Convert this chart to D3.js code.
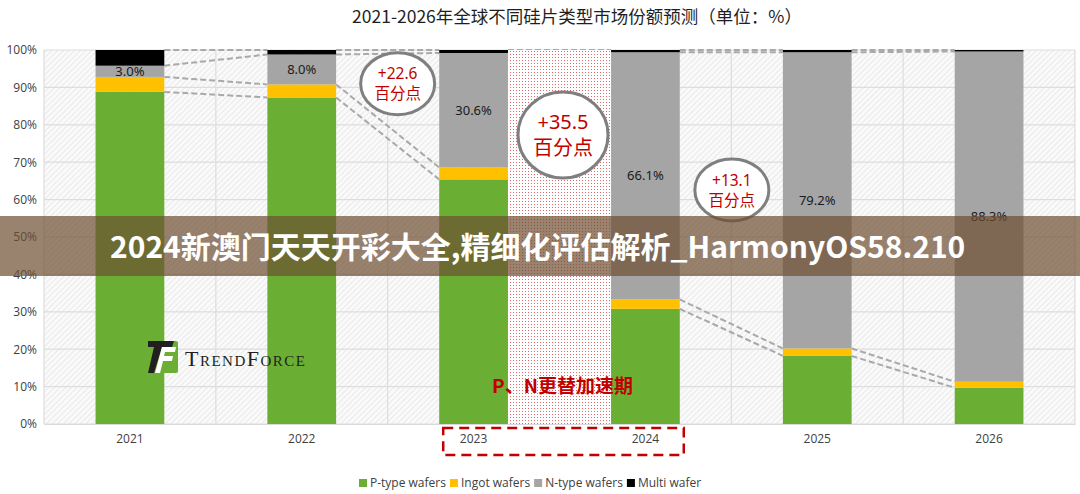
<!DOCTYPE html>
<html>
<head>
<meta charset="utf-8">
<script src="https://cdn.jsdelivr.net/npm/d3@7"></script>
<style>
  body { margin: 0; background: #fff; }
  svg text { font-family: "Noto Sans", "Noto Sans CJK SC", sans-serif; }
</style>
</head>
<body>
<div class="graph"></div>
<script>
// chart data (percent share per year)
const years = ["2021", "2022", "2023", "2024", "2025", "2026"];
const series = ["P-type wafers", "Ingot wafers", "N-type wafers", "Multi wafer"];
const pType = [88.8, 87.3, 65.4, 30.8, 18.2, 9.7];
const ingot = [4.0, 3.5, 3.2, 2.5, 2.0, 1.6];
const nType = [3.0, 8.0, 30.6, 66.1, 79.2, 88.3];
const multi = [4.2, 1.2, 0.8, 0.6, 0.6, 0.4];
const nLabels = ["3.0%", "8.0%", "30.6%", "66.1%", "79.2%", "88.3%"];
const yTicks = [0, 10, 20, 30, 40, 50, 60, 70, 80, 90, 100];
const colors = ["#6aaf33", "#ffc000", "#a5a5a5", "#000000"];

// annotation bubbles: placed between two years, at a value
const bubbles = [
  {from: "2022", to: "2023", at: 91, top: "+22.6", bottom: "百分点", big: false},
  {from: "2023", to: "2024", at: 77.3, top: "+35.5", bottom: "百分点", big: true},
  {from: "2024", to: "2025", at: 62.6, top: "+13.1", bottom: "百分点", big: false}
];

const W = 1080, H = 494;
const margin = {top: 50, right: 5, bottom: 70, left: 44};

const svg = d3.select(".graph").append("svg")
  .attr("width", W).attr("height", H);

const defs = svg.append("defs");
// light diagonal hatch of the plot background
const hatch = defs.append("pattern").attr("id", "hatch")
  .attr("patternUnits", "userSpaceOnUse").attr("width", 4).attr("height", 4)
  .attr("patternTransform", "rotate(45)");
hatch.append("rect").attr("width", 4).attr("height", 4).attr("fill", "#fafafa");
hatch.append("line").attr("x1", 0).attr("y1", 0).attr("x2", 0).attr("y2", 4)
  .attr("stroke", "#d9d9d9").attr("stroke-width", 1);
// red dots of the P/N transition zone
const dots = defs.append("pattern").attr("id", "dots")
  .attr("patternUnits", "userSpaceOnUse").attr("width", 3).attr("height", 3);
dots.append("rect").attr("width", 3).attr("height", 3).attr("fill", "#fff");
dots.append("rect").attr("width", 1).attr("height", 1).attr("fill", "#e06a6a");

const x = d3.scaleBand()
  .domain(years)
  .range([margin.left, W - margin.right])
  .paddingInner(0.6)
  .paddingOuter(0.3);
const y = d3.scaleLinear()
  .domain([0, 100])
  .range([H - margin.bottom, margin.top]);
const step = x.step();
const cx = d => x(d) + x.bandwidth() / 2;

// plot background
svg.append("rect")
  .attr("x", margin.left).attr("y", y(100))
  .attr("width", W - margin.right - margin.left).attr("height", y(0) - y(100))
  .attr("fill", "url(#hatch)");

// grid
svg.append("g").selectAll("line").data(yTicks).join("line")
  .attr("x1", margin.left).attr("x2", W - margin.right)
  .attr("y1", d => y(d)).attr("y2", d => y(d))
  .attr("stroke", "#dddddd").attr("stroke-width", 1.2);
const vLines = [margin.left].concat(years.map(d => cx(d) + step / 2));
svg.append("g").selectAll("line").data(vLines).join("line")
  .attr("x1", d => d).attr("x2", d => d)
  .attr("y1", y(100)).attr("y2", y(0))
  .attr("stroke", "#dddddd").attr("stroke-width", 1.2);

// y axis
const yAxis = svg.append("g")
  .attr("transform", "translate(" + margin.left + ",0)")
  .call(d3.axisLeft(y).tickValues(yTicks).tickSize(0).tickPadding(7).tickFormat(d => d + "%"));
yAxis.select(".domain").remove();
yAxis.selectAll("text").style("font-size", "12px").attr("fill", "#404040")
  .style("font-family", "'Open Sans', 'Noto Sans', sans-serif");

// x axis
const xAxis = svg.append("g")
  .attr("transform", "translate(0," + y(0) + ")")
  .call(d3.axisBottom(x).tickSize(0).tickPadding(10));
xAxis.select(".domain").attr("stroke", "#d9d9d9").attr("stroke-width", 1.2);
xAxis.selectAll("text").style("font-size", "12px").attr("fill", "#404040")
  .style("font-family", "'Open Sans', 'Noto Sans', sans-serif");

// stacked data
const table = years.map((yr, i) => ({
  year: yr, "P-type wafers": pType[i], "Ingot wafers": ingot[i],
  "N-type wafers": nType[i], "Multi wafer": multi[i]
}));
const stacked = d3.stack().keys(series)(table);

// dashed connectors between neighbouring bars
const conn = svg.append("g");
stacked.forEach(layer => {
  for (let i = 0; i < years.length - 1; i++) {
    conn.append("line")
      .attr("x1", x(years[i]) + x.bandwidth()).attr("y1", y(layer[i][1]))
      .attr("x2", x(years[i + 1])).attr("y2", y(layer[i + 1][1]))
      .attr("stroke", "#a9a9a9").attr("stroke-width", 2)
      .attr("stroke-dasharray", "6,3");
  }
});

// P/N transition zone between 2023 and 2024
svg.append("rect")
  .attr("x", x("2023") + x.bandwidth()).attr("y", y(100))
  .attr("width", x("2024") - x("2023") - x.bandwidth()).attr("height", y(0) - y(100))
  .attr("fill", "url(#dots)");

// bars
svg.append("g").selectAll("g").data(stacked).join("g")
  .attr("fill", (d, i) => colors[i])
  .selectAll("rect").data(d => d).join("rect")
  .attr("x", d => x(d.data.year))
  .attr("y", d => y(d[1]))
  .attr("width", x.bandwidth())
  .attr("height", d => y(d[0]) - y(d[1]));

// N-type value labels
svg.append("g").selectAll("text").data(years).join("text")
  .attr("x", d => cx(d))
  .attr("y", (d, i) => y(stacked[1][i][1] + nType[i] / 2))
  .attr("dy", "0.35em")
  .attr("text-anchor", "middle")
  .style("font-size", "13px")
  .attr("fill", "#1a1a1a")
  .text((d, i) => nLabels[i]);

// bubbles (small nudges so they sit as in the original)
const bubbleShift = [10, 3.5, 0.5];
bubbles.forEach((b, k) => {
  const bx = (cx(b.from) + cx(b.to)) / 2 + bubbleShift[k];
  const by = y(b.at);
  const rx = b.big ? 45 : 37, ry = b.big ? 43 : 31;
  svg.append("ellipse").attr("cx", bx).attr("cy", by)
    .attr("rx", rx).attr("ry", ry)
    .attr("fill", "#fff").attr("stroke", "#7f7f7f").attr("stroke-width", 3);
  const fs = b.big ? 20 : 15.5;
  // two lines in one text element
  const t = svg.append("text").attr("x", bx).attr("y", by - fs * 0.28)
    .attr("text-anchor", "middle").attr("fill", "#c00000")
    .style("font-size", fs + "px");
  t.append("tspan").attr("x", bx).text(b.top);
  t.append("tspan").attr("x", bx).attr("dy", fs * 1.3)
    .style("font-family", "'Noto Sans CJK SC', sans-serif").text(b.bottom);
});

// P/N transition label and dashed frame
svg.append("text")
  .attr("x", (cx("2023") + cx("2024")) / 2 + 3).attr("y", y(10))
  .attr("dy", "0.35em").attr("text-anchor", "middle")
  .attr("fill", "#c00000").style("font-size", "19px").style("font-weight", "600")
  .style("font-family", "'Noto Sans CJK SC', sans-serif")
  .text("P、N更替加速期");
svg.append("rect")
  .attr("x", x("2023") + 4).attr("y", y(0) + 4)
  .attr("width", x("2024") + x.bandwidth() - x("2023")).attr("height", 27)
  .attr("fill", "none").attr("stroke", "#c00000").attr("stroke-width", 2.5)
  .attr("stroke-dasharray", "10,6");

// TrendForce watermark
const logo = svg.append("g").attr("transform", "translate(148,341)");
logo.append("rect").attr("width", 30).attr("height", 32).attr("rx", 2).attr("fill", "#6aaf33");
logo.append("path").attr("d", "M0,0 H26 L24,6 H0 Z M6,6 H14 L6,32 H0 Z").attr("fill", "#231f20");
logo.append("path").attr("d", "M14,6 H28 L27,11 H17 L16,15 H25 L24,20 H15 L12,32 H7 Z").attr("fill", "#fff");
svg.append("text").attr("x", 185).attr("y", 366)
  .style("font-family", "'Liberation Serif', serif").style("font-size", "22px")
  .style("font-variant", "small-caps").attr("fill", "#231f20")
  .attr("textLength", 120).text("TrendForce");

// title
svg.append("text").attr("x", 577).attr("y", 23)
  .attr("text-anchor", "middle").attr("fill", "#1f1f1f")
  .style("font-size", "17.5px").style("font-family", "'Noto Sans CJK SC', sans-serif")
  .text("2021-2026年全球不同硅片类型市场份额预测（单位：%）");

// legend
const legend = svg.append("g").attr("transform", "translate(359,483)");
let lx = 0;
series.forEach((s, i) => {
  const g = legend.append("g").attr("transform", "translate(" + lx + ",0)");
  g.append("rect").attr("x", 0).attr("y", -4).attr("width", 8).attr("height", 8).attr("fill", colors[i]);
  const t = g.append("text").attr("x", 11).attr("dy", "0.35em")
    .style("font-size", "12px").attr("fill", "#404040")
    .style("font-family", "'Open Sans', 'Noto Sans', sans-serif").text(s);
  lx += 11 + t.node().getComputedTextLength() + 4;
});

// overlay banner
svg.append("rect").attr("x", 0).attr("y", 216).attr("width", W).attr("height", 60)
  .attr("fill", "rgba(110,79,50,0.7)");
svg.append("text").attr("x", 110).attr("y", 247).attr("dy", "0.35em")
  .attr("fill", "#fff").style("font-size", "30px").style("font-weight", "bold")
  .style("font-family", "'Noto Sans CJK SC', sans-serif")
  .text("2024新澳门天天开彩大全,精细化评估解析_HarmonyOS58.210");
</script>
</body>
</html>
